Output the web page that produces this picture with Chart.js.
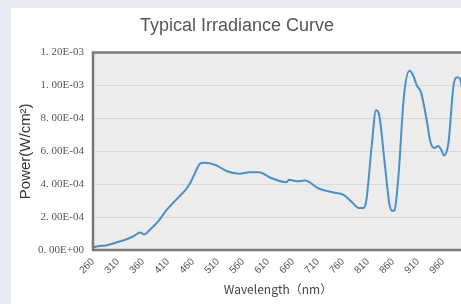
<!DOCTYPE html>
<html>
<head>
<meta charset="utf-8">
<script src="https://cdn.jsdelivr.net/npm/chart.js@4/dist/chart.umd.min.js"></script>
<style>
  html, body { margin: 0; padding: 0; background: #e8eaf3; overflow: hidden; }
  #card { position: absolute; left: 11px; top: 8px; width: 460px; height: 296px; background: #fff; }
</style>
</head>
<body>
<div id="card"><canvas id="chart" width="460" height="296"></canvas></div>
<script>
const chartTitle = "Typical Irradiance Curve";
const xTitle = "Wavelength（nm）";
const yTitle = "Power(W/cm²)";

// wavelength (nm) and power (W/cm2)
const wavelengths = [260, 270, 285, 300, 320, 340, 355, 362, 375, 390, 407, 427, 445, 455, 465, 474, 482, 505, 527, 553,
  572, 592, 616, 647, 652, 668, 684, 711, 744, 762, 778, 792, 801, 807, 817, 826, 832, 844, 853, 859,
  863, 871, 882, 893, 899, 908, 916, 927, 935, 943, 950, 956, 962, 971, 981, 989, 994, 1000];
const power = [1.5e-5, 2.3e-5, 2.8e-5, 4.0e-5, 5.8e-5, 8.2e-5, 1.07e-4, 9.4e-5, 1.27e-4, 1.72e-4, 2.42e-4, 3.08e-4, 3.65e-4, 4.10e-4, 4.75e-4, 5.25e-4, 5.30e-4, 5.17e-4, 4.80e-4, 4.63e-4,
  4.72e-4, 4.73e-4, 4.38e-4, 4.12e-4, 4.27e-4, 4.18e-4, 4.22e-4, 3.74e-4, 3.48e-4, 3.33e-4, 2.90e-4, 2.55e-4, 2.55e-4, 3.10e-4, 6.20e-4, 8.50e-4, 8.25e-4, 5.10e-4, 2.75e-4, 2.38e-4,
  2.42e-4, 4.55e-4, 9.40e-4, 1.090e-3, 1.070e-3, 9.98e-4, 9.60e-4, 7.96e-4, 6.55e-4, 6.20e-4, 6.32e-4, 6.12e-4, 5.75e-4, 6.55e-4, 9.98e-4, 1.050e-3, 1.040e-3, 9.50e-4];

const xTicks = [260, 310, 360, 410, 460, 510, 560, 610, 660, 710, 760, 810, 860, 910, 960];
const yTicks = [0, 2e-4, 4e-4, 6e-4, 8e-4, 1e-3, 1.2e-3];
const yTickLabels = ["0. 00E+00", "2. 00E-04", "4. 00E-04", "6. 00E-04", "8. 00E-04", "1. 00E-03", "1. 20E-03"];

const points = wavelengths.map((w, i) => ({x: w, y: power[i]}));

const plotFrame = {
  id: "plotFrame",
  beforeDraw(chart) {
    const a = chart.chartArea, ctx = chart.ctx;
    ctx.save();
    ctx.fillStyle = "#ececec";
    ctx.fillRect(a.left, a.top, a.right - a.left, a.bottom - a.top);
    ctx.restore();
  },
  afterDatasetsDraw(chart) {
    const a = chart.chartArea, ctx = chart.ctx;
    ctx.save();
    ctx.strokeStyle = "#787878";
    ctx.lineWidth = 2.5;
    ctx.beginPath();
    ctx.moveTo(a.right, a.top);
    ctx.lineTo(a.left, a.top);
    ctx.lineTo(a.left, a.bottom);
    ctx.lineTo(a.right, a.bottom);
    ctx.stroke();
    ctx.restore();
  }
};

new Chart("chart", {
  type: "line",
  data: {
    datasets: [{
      data: points,
      borderColor: "#4a8fc9",
      borderWidth: 2,
      pointRadius: 0,
      cubicInterpolationMode: "monotone",
      fill: false
    }]
  },
  options: {
    responsive: false,
    animation: false,
    layout: { padding: { right: 8, bottom: 0 } },
    plugins: {
      legend: { display: false },
      tooltip: { enabled: false },
      title: {
        display: true,
        text: chartTitle,
        color: "#555",
        font: { family: "'Liberation Sans', Arial", size: 18, weight: "normal" },
        padding: { top: 7, bottom: 16 }
      }
    },
    scales: {
      x: {
        type: "linear",
        min: 260,
        max: 1000,
        afterBuildTicks: (scale) => { scale.ticks = xTicks.map(v => ({value: v})); },
        afterFit: (scale) => { scale.height = 54; },
        grid: { display: false, drawTicks: false },
        border: { display: false },
        ticks: {
          autoSkip: false,
          minRotation: 45,
          maxRotation: 45,
          padding: 6,
          color: "#555",
          font: { family: "'Liberation Sans', Arial", size: 10 }
        },
        title: {
          display: true,
          text: xTitle,
          color: "#444",
          font: { family: "'Noto Sans CJK SC', 'Liberation Sans'", size: 12 },
          padding: { top: 0, bottom: 7 }
        }
      },
      y: {
        min: 0,
        max: 1.2e-3,
        afterBuildTicks: (scale) => { scale.ticks = yTicks.map(v => ({value: v})); },
        afterFit: (scale) => { scale.width = 82; },
        grid: { color: "#d9d9d9", lineWidth: 1, drawTicks: false },
        border: { display: false },
        ticks: {
          padding: 9,
          color: "#555",
          font: { family: "'Liberation Serif', serif", size: 11 },
          callback: (v, i) => yTickLabels[i]
        },
        title: {
          display: true,
          text: yTitle,
          color: "#333",
          font: { family: "'Liberation Sans', Arial", size: 15 },
          padding: { top: 6, bottom: 0 }
        }
      }
    }
  },
  plugins: [plotFrame]
});
</script>
</body>
</html>
